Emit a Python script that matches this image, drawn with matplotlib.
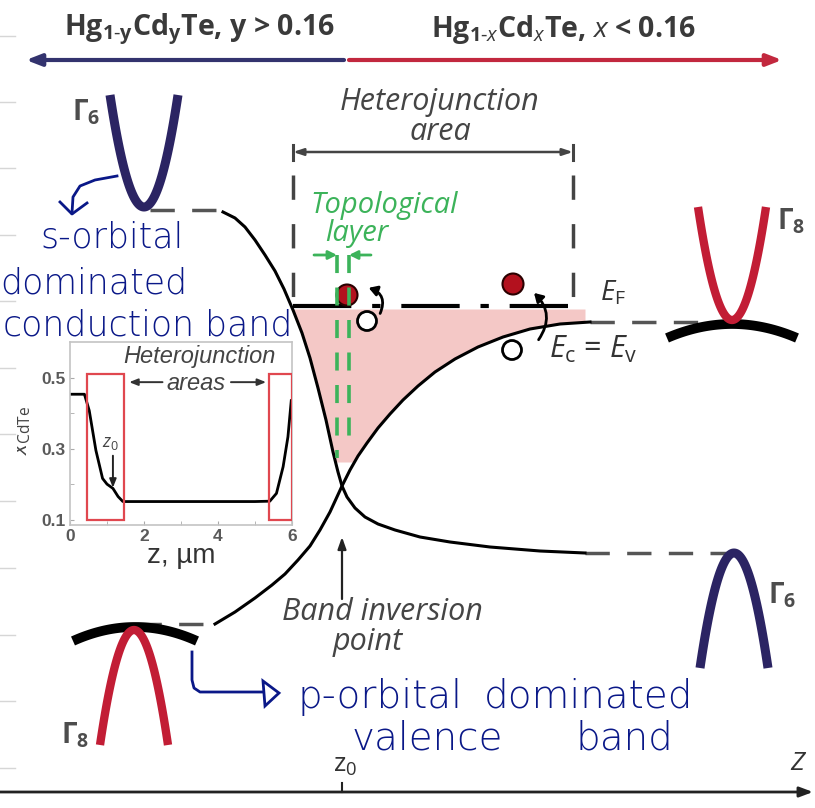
import numpy as np
import matplotlib
matplotlib.use("Agg")
import matplotlib.pyplot as plt
from matplotlib.patches import Circle, FancyArrowPatch, Polygon, Rectangle
from matplotlib.transforms import Bbox

plt.rcParams['mathtext.fontset'] = 'custom'
plt.rcParams['mathtext.rm'] = 'Open Sans'
plt.rcParams['mathtext.it'] = 'Open Sans:italic'
plt.rcParams['mathtext.bf'] = 'Open Sans:bold'
plt.rcParams['font.family'] = ['Open Sans', 'DejaVu Sans']

# ---------------- data (diagram units: z to the right, energy downward) ----------------
# conduction-like band (s-orbital) through the heterojunction
cb_z = [223, 235, 245, 255, 265, 275, 284, 293, 302, 310, 318, 326, 333, 338, 342, 347, 355, 365, 378, 395,
        420, 450, 490, 540, 585]
cb_E = [212, 218, 227, 240, 255, 271, 289, 310, 333, 358, 388, 420, 452, 472, 486, 497, 508, 517, 524, 530,
        537, 542, 547, 551, 553]
# valence-like band (p-orbital) through the heterojunction
vb_z = [215, 235, 255, 272, 285, 298, 310, 320, 330, 336, 342, 350, 358, 367, 378, 390, 403, 418, 435, 455,
        478, 503, 530, 560, 590]
vb_E = [624, 612, 598, 585, 574, 560, 546, 530, 512, 499, 486, 470, 456, 443, 428, 414, 400, 386, 372, 359,
        347, 337, 329, 324, 322]

fermi_level = 306
hetero_edges = [293, 573]
topo_edges = [337, 349]
band_inversion_z = 342

# inset: composition profile
inset_z = [0.0, 0.39, 0.52, 0.70, 0.88, 1.00, 1.16, 1.30, 1.43, 2.0, 3.0, 4.0, 5.0, 5.40, 5.58, 5.76, 5.89, 5.98]
inset_x = [0.453, 0.453, 0.407, 0.295, 0.216, 0.200, 0.188, 0.165, 0.151, 0.151, 0.151, 0.151, 0.151, 0.152,
           0.174, 0.249, 0.333, 0.435]
inset_boxes = [(0.45, 1.45), (5.38, 6.0)]
inset_box_y = (0.10, 0.51)
inset_xticks = [0, 2, 4, 6]
inset_yticks = [0.1, 0.3, 0.5]

header_left = r"Hg$_{\mathbf{1\text{-}y}}$Cd$_{\mathbf{y}}$Te, y > 0.16"
header_right = r"Hg$_{\mathbf{1\text{-}}\mathit{x}}$Cd$_{\mathit{x}}$Te, $\mathit{x}$ < 0.16"

rule_lines = [36, 102, 168, 235, 301, 368, 434, 501, 568, 635, 701, 768]

# ---------------- styles ----------------
NAVY = '#2b2463'
RED = '#c21d35'
GRAY_T = '#454545'
GREEN = '#3cb35a'
INK = '#0a1888'
PINK = '#f4c8c6'

W, H = 815, 808
fig = plt.figure(figsize=(W / 100, H / 100), dpi=100)
ax = fig.add_axes([0, 0, 1, 1])
ax.set_xlim(0, W)
ax.set_ylim(H, 0)
ax.axis('off')

for y in rule_lines:
    ax.plot([0, 15], [y, y], color='#d6d6d6', lw=1, zorder=0)

# header
ax.text(199, 29, header_left, ha='center', va='center', fontsize=20.5, fontweight='bold', color='#3a3a3a')
ax.text(563, 29, header_right, ha='center', va='center', fontsize=20.5, fontweight='bold', color='#3a3a3a')
ax.annotate('', xy=(26, 60), xytext=(344, 60),
            arrowprops=dict(arrowstyle='-|>,head_length=0.9,head_width=0.35', color='#33336e', lw=3,
                            shrinkA=0, shrinkB=0))
ax.annotate('', xy=(782, 60), xytext=(349, 60),
            arrowprops=dict(arrowstyle='-|>,head_length=0.9,head_width=0.35', color='#c2283e', lw=3,
                            shrinkA=0, shrinkB=0))


def parabola(vx, vy, half_w, depth, n=80):
    t = np.linspace(-1, 1, n)
    return vx + half_w * t, vy + depth * t ** 2


# pink filled states
zf = np.linspace(hetero_edges[0], 585, 400)
lower = np.minimum(np.interp(zf, cb_z, cb_E), np.interp(zf, vb_z, vb_E))
lower = np.minimum(lower, 462)
ax.fill_between(zf, fermi_level + 3, lower, where=lower > fermi_level + 3, color=PINK, lw=0, zorder=1)

# band curves
ax.plot(cb_z, cb_E, color='black', lw=2.2, zorder=3)
ax.plot(vb_z, vb_E, color='black', lw=2.2, zorder=3)

# dashed band edges
dash_kw = dict(color='#555555', lw=2.5, dashes=(7, 5), zorder=2)
ax.plot([150, cb_z[0]], [cb_E[0] - 2, cb_E[0] - 2], **dash_kw)
ax.plot([137, vb_z[0]], [vb_E[0], vb_E[0]], **dash_kw)
ax.plot([vb_z[-1], 733], [vb_E[-1], vb_E[-1]], **dash_kw)
ax.plot([cb_z[-1], 733], [cb_E[-1], cb_E[-1]], **dash_kw)

# bulk band parabolas
px, py = parabola(144, 207, 34, -112)
ax.plot(px, py, color=NAVY, lw=6.5, solid_capstyle='butt', zorder=4)
px, py = parabola(732, 324, 65, 14)
ax.plot(px, py, color='black', lw=7, solid_capstyle='butt', zorder=4)
px, py = parabola(732, 320, 34, -113)
ax.plot(px, py, color=RED, lw=6, solid_capstyle='butt', zorder=5)
px, py = parabola(734, 553, 34, 115)
ax.plot(px, py, color=NAVY, lw=6.5, solid_capstyle='butt', zorder=4)
px, py = parabola(135, 627, 62, 14)
ax.plot(px, py, color='black', lw=7, solid_capstyle='butt', zorder=4)
px, py = parabola(134, 630, 34, 115)
ax.plot(px, py, color=RED, lw=6, solid_capstyle='butt', zorder=5)

gkw = dict(fontsize=20, color='#4d4d4d', ha='center', va='center', fontweight='bold')
ax.text(86, 113, r'Γ$_{\mathbf{6}}$', **gkw)
ax.text(791, 222, r'Γ$_{\mathbf{8}}$', **gkw)
ax.text(782, 596, r'Γ$_{\mathbf{6}}$', **gkw)
ax.text(75, 736, r'Γ$_{\mathbf{8}}$', **gkw)

# heterojunction area
for x in hetero_edges:
    ax.plot([x, x], [175, fermi_level + 4], color='#444444', lw=2.5, dashes=(7, 7), zorder=3)
    ax.plot([x, x], [145, 160], color='#444444', lw=2.2, zorder=3)
ax.annotate('', xy=(hetero_edges[0], 152), xytext=(hetero_edges[1], 152),
            arrowprops=dict(arrowstyle='<|-|>,head_length=0.6,head_width=0.2', color='#444444', lw=1.8,
                            shrinkA=0, shrinkB=0))
ax.text(440, 102, 'Heterojunction', style='italic', color=GRAY_T, fontsize=22, ha='center', va='center')
ax.text(440, 132, 'area', style='italic', color=GRAY_T, fontsize=22, ha='center', va='center')

# Fermi level
ax.plot([hetero_edges[0], 582], [fermi_level, fermi_level], color='black', lw=3,
        dashes=(14, 5, 2, 5), zorder=4)
ax.text(613, 293, r'$E_{\mathrm{F}}$', fontsize=20, color='#333333', ha='center', va='center')
ax.text(593, 349, r'$E_{\mathrm{c}}$ = $E_{\mathrm{v}}$', fontsize=22, color='#333333', ha='center', va='center')

# topological layer
ax.text(384, 205, 'Topological', style='italic', color=GREEN, fontsize=21, ha='center', va='center')
ax.text(357, 234, 'layer', style='italic', color=GREEN, fontsize=21, ha='center', va='center')
ax.annotate('', xy=(topo_edges[0], 255), xytext=(314, 255),
            arrowprops=dict(arrowstyle='-|>,head_length=0.5,head_width=0.25', color=GREEN, lw=2,
                            shrinkA=0, shrinkB=0))
ax.annotate('', xy=(topo_edges[1], 255), xytext=(371, 255),
            arrowprops=dict(arrowstyle='-|>,head_length=0.5,head_width=0.25', color=GREEN, lw=2,
                            shrinkA=0, shrinkB=0))
ax.plot([topo_edges[0], topo_edges[0]], [255, 458], color=GREEN, lw=2.6, dashes=(5, 4), zorder=7)
ax.plot([topo_edges[1], topo_edges[1]], [255, 440], color=GREEN, lw=2.6, dashes=(5, 4), zorder=7)

# carriers
for cx, cy in [(347, 295), (513, 284)]:
    ax.add_patch(Circle((cx, cy), 10.5, facecolor='#b3111e', edgecolor='#2a0000', lw=1.5, zorder=6))
for cx, cy in [(367, 321), (512, 350)]:
    ax.add_patch(Circle((cx, cy), 9.5, facecolor='white', edgecolor='black', lw=2, zorder=6))
for a, b, r in [((379, 316), (366, 287), 0.6), ((537, 342), (532, 291), 0.45)]:
    ax.add_patch(FancyArrowPatch(a, b, connectionstyle=f'arc3,rad={r}',
                                 arrowstyle='-|>,head_length=5,head_width=3',
                                 color='black', lw=2, zorder=8))

# band inversion point
ax.annotate('', xy=(band_inversion_z, 537), xytext=(band_inversion_z, 599),
            arrowprops=dict(arrowstyle='-|>,head_length=0.7,head_width=0.25', color='#222222', lw=1.6,
                            shrinkA=0, shrinkB=0))
ax.text(382, 612, 'Band inversion', style='italic', color=GRAY_T, fontsize=22, ha='center', va='center')
ax.text(368, 642, 'point', style='italic', color=GRAY_T, fontsize=22, ha='center', va='center')

# z axis
ax.annotate('', xy=(813, 792), xytext=(0, 792),
            arrowprops=dict(arrowstyle='-|>,head_length=0.8,head_width=0.3', color='#222222', lw=2,
                            shrinkA=0, shrinkB=0))
ax.plot([band_inversion_z, band_inversion_z], [783, 792], color='#222222', lw=1.5)
ax.text(band_inversion_z + 3, 765, r'z$_{\mathrm{0}}$', fontsize=19, color='#333333', ha='center', va='center')
ax.text(797, 763, 'Z', style='italic', fontsize=19, color='#333333', ha='center', va='center')

# handwritten notes
hw = dict(color=INK, fontsize=25, family='DejaVu Sans', fontweight=200, va='center', ha='left')
hw2 = dict(hw, fontsize=28)
ax.text(40, 238, 's-orbital', **hw)
ax.text(0, 283, 'dominated', **hw)
ax.text(3, 325, 'conduction', **hw)
ax.text(205, 325, 'band', **hw)
ax.text(298, 697, 'p-orbital', **hw2)
ax.text(484, 697, 'dominated', **hw2)
ax.text(352, 738, 'valence', **hw2)
ax.text(575, 738, 'band', **hw2)
ax.plot([117, 95, 80, 73, 72], [176, 180, 186, 197, 213], color=INK, lw=2)
ax.plot([60, 72, 87], [202, 214, 203], color=INK, lw=2)
ax.plot([192, 192, 194, 200, 262], [652, 680, 688, 692, 692], color=INK, lw=2)
ax.add_patch(Polygon([[263, 681], [279, 693], [265, 706]], closed=True, fill=False, edgecolor=INK, lw=2))

# ---------------- inset ----------------
ia = fig.add_axes([70 / W, 1 - 525 / H, 222 / W, 183 / H], zorder=10)
ia.set_facecolor('white')
ia.plot(inset_z, inset_x, color='black', lw=2)
for z1, z2 in inset_boxes:
    ia.add_patch(Rectangle((z1, inset_box_y[0]), z2 - z1, inset_box_y[1] - inset_box_y[0], fill=False,
                           edgecolor='#e0474f', lw=1.6, zorder=5))
ia.set_xlim(0, 6)
ia.set_ylim(0.085, 0.6)
ia.set_xticks(inset_xticks)
ia.set_yticks(inset_yticks)
ia.set_xticks([1, 3, 5], minor=True)
ia.set_yticks([0.2, 0.4], minor=True)
for s in ia.spines.values():
    s.set_color('#c4c4c4')
    s.set_linewidth(1.2)
ia.tick_params(which='both', direction='in', length=3, color='#aaaaaa', labelcolor='#5a5a5a', pad=3)
for lab in ia.get_xticklabels() + ia.get_yticklabels():
    lab.set_fontfamily('Liberation Sans')
    lab.set_fontweight('bold')
    lab.set_fontsize(12.5)
ia.set_xlabel('z, µm', fontsize=20, color='#333333', family='Liberation Sans', labelpad=-1)
ia.text(3.5, 0.56, 'Heterojunction', style='italic', fontsize=17, color='#444444', ha='center', va='center',
        family='Liberation Sans')
ia.text(3.4, 0.483, 'areas', style='italic', fontsize=17, color='#444444', ha='center', va='center',
        family='Liberation Sans')
ia.annotate('', xy=(1.6, 0.487), xytext=(2.5, 0.487),
            arrowprops=dict(arrowstyle='-|>,head_length=0.5,head_width=0.2', color='#333333', lw=1.4,
                            shrinkA=0, shrinkB=0))
ia.annotate('', xy=(5.3, 0.487), xytext=(4.35, 0.487),
            arrowprops=dict(arrowstyle='-|>,head_length=0.5,head_width=0.2', color='#333333', lw=1.4,
                            shrinkA=0, shrinkB=0))
ia.text(1.1, 0.315, r'$z_{0}$', fontsize=13, color='#444444', ha='center', va='center')
ia.annotate('', xy=(1.16, 0.19), xytext=(1.16, 0.28),
            arrowprops=dict(arrowstyle='-|>,head_length=0.5,head_width=0.2', color='#222222', lw=1.4,
                            shrinkA=0, shrinkB=0))

yl = fig.text(12 / W, 1 - 430 / H, r'$x_{\mathrm{CdTe}}$', rotation=90, fontsize=16, color='#444444',
              ha='left', va='center', family='Liberation Sans')
yl.set_clip_box(Bbox.from_extents(17, 0, W, H))
yl.set_clip_on(True)

fig.savefig('out.png', dpi=100, facecolor='white')
